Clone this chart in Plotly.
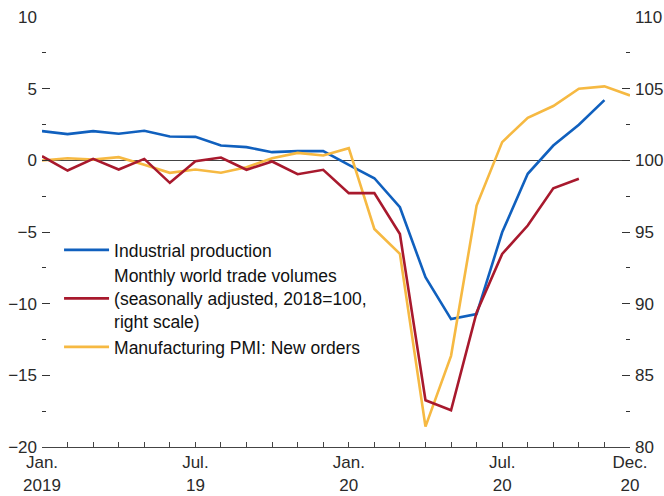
import plotly.graph_objects as go

months = list(range(24))
month_labels = ["Jan.<br>2019", "", "", "", "", "", "Jul.<br>19", "", "", "", "", "",
                "Jan.<br>20", "", "", "", "", "", "Jul.<br>20", "", "", "", "", "Dec.<br>20"]

industrial_production = [2.04, 1.83, 2.04, 1.86, 2.06, 1.66, 1.64, 1.03, 0.92, 0.57, 0.64, 0.64,
                         -0.31, -1.25, -3.27, -8.16, -11.08, -10.73, -5.02, -0.94, 1.03, 2.48, 4.2]
trade_volumes = [100.29, 99.29, 100.1, 99.36, 100.1, 98.43, 99.94, 100.2, 99.34, 99.92, 99.03, 99.34,
                 97.71, 97.71, 94.86, 83.26, 82.56, 89.39, 93.47, 95.45, 98.05, 98.71]
pmi_new_orders = [-0.01, 0.15, 0.05, 0.22, -0.31, -0.87, -0.64, -0.87, -0.48, 0.15, 0.52, 0.34,
                  0.85, -4.79, -6.53, -18.58, -13.64, -3.16, 1.27, 2.97, 3.79, 5.0, 5.16, 4.53]

names = ["Industrial production",
         "Monthly world trade volumes<br>(seasonally adjusted, 2018=100,<br>right scale)",
         "Manufacturing PMI: New orders"]
colors = ["#1060be", "#a8192d", "#f6b942"]

FONT = "Liberation Sans, Arial, sans-serif"
TXT = "#2a2a2a"

fig = go.Figure()
fig.add_trace(go.Scatter(x=months[:len(industrial_production)], y=industrial_production,
                         mode="lines", name=names[0], line=dict(color=colors[0], width=2.6)))
fig.add_trace(go.Scatter(x=months[:len(trade_volumes)], y=trade_volumes, yaxis="y2",
                         mode="lines", name=names[1], line=dict(color=colors[1], width=2.6)))
fig.add_trace(go.Scatter(x=months[:len(pmi_new_orders)], y=pmi_new_orders,
                         mode="lines", name=names[2], line=dict(color=colors[2], width=2.6)))

fig.update_layout(
    width=664, height=496,
    margin=dict(l=42, r=34, t=17, b=49),
    paper_bgcolor="white", plot_bgcolor="white",
    font=dict(family=FONT, size=17, color=TXT),
    showlegend=True,
    legend=dict(x=0.029, y=0.50, xanchor="left", yanchor="top",
                bgcolor="rgba(0,0,0,0)", font=dict(size=17.5, color="#111"),
                itemwidth=45, tracegroupgap=0),
    xaxis=dict(range=[0, 23], tickmode="array", tickvals=months, ticktext=month_labels,
               ticks="inside", ticklen=5, tickcolor="#444", showgrid=False, zeroline=False,
               showline=True, linecolor="#444", linewidth=1, tickangle=0, automargin=False,
               tickfont=dict(size=17, color=TXT)),
    yaxis=dict(range=[-20, 10], tickmode="linear", tick0=-20, dtick=5, automargin=False,
               ticks="inside", ticklen=8, tickcolor="#333", showgrid=False,
               zeroline=True, zerolinecolor="#444", zerolinewidth=1, ticklabelstandoff=4,
               showline=False, tickfont=dict(size=17, color=TXT),
               minor=dict(tick0=-20, dtick=2.5, ticks="inside", ticklen=4, tickcolor="#333", showgrid=False)),
    yaxis2=dict(range=[80, 110], overlaying="y", side="right", tickmode="linear", tick0=80, dtick=5,
                ticks="inside", ticklen=8, tickcolor="#333", showgrid=False, zeroline=False,
                showline=False, automargin=False, ticklabelstandoff=4, tickfont=dict(size=17, color=TXT),
                minor=dict(tick0=80, dtick=2.5, ticks="inside", ticklen=4, tickcolor="#333", showgrid=False)),
)

fig.write_html("out.html", config={"displayModeBar": False},
               post_script="document.body.style.margin='0';document.body.style.padding='0';document.body.style.overflow='hidden';")
